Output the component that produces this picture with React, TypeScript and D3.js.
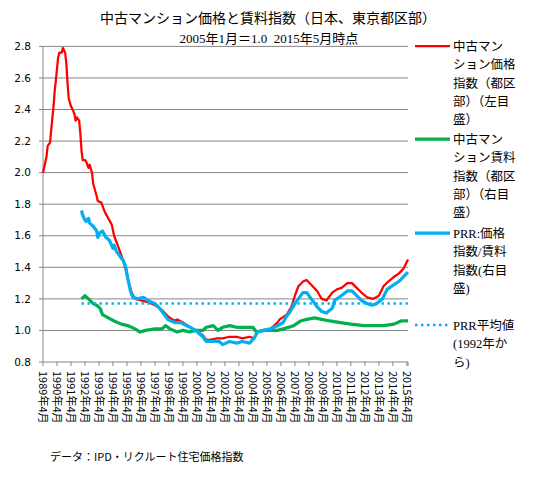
import React from "react";
import * as d3 from "d3";

const priceIndex: [string, number][] = [
  ["1989-04", 2.0], ["1989-07", 2.1], ["1989-08", 2.17], ["1989-10", 2.19], ["1989-11", 2.27],
  ["1990-01", 2.42], ["1990-02", 2.52], ["1990-03", 2.58], ["1990-05", 2.73], ["1990-06", 2.76],
  ["1990-08", 2.76], ["1990-09", 2.79], ["1990-11", 2.76], ["1990-12", 2.69], ["1991-01", 2.57],
  ["1991-02", 2.47], ["1991-04", 2.42], ["1991-06", 2.39], ["1991-07", 2.37], ["1991-08", 2.33],
  ["1991-09", 2.35], ["1991-11", 2.33], ["1991-12", 2.25], ["1992-01", 2.14], ["1992-02", 2.08],
  ["1992-04", 2.08], ["1992-05", 2.07], ["1992-07", 2.03], ["1992-08", 2.05], ["1992-10", 2.0],
  ["1992-11", 1.93], ["1993-02", 1.85], ["1993-03", 1.82], ["1993-06", 1.81], ["1993-09", 1.75],
  ["1993-12", 1.71], ["1994-03", 1.67], ["1994-05", 1.6], ["1994-08", 1.54], ["1994-11", 1.48],
  ["1995-02", 1.41], ["1995-05", 1.32], ["1995-08", 1.24], ["1995-11", 1.2], ["1996-04", 1.19],
  ["1996-10", 1.18], ["1997-04", 1.16], ["1997-10", 1.13], ["1998-03", 1.09], ["1998-05", 1.08],
  ["1998-09", 1.06], ["1998-11", 1.07], ["1999-04", 1.05], ["1999-10", 1.02], ["2000-03", 1.0],
  ["2000-09", 0.97], ["2000-12", 0.94], ["2001-03", 0.94], ["2001-09", 0.95], ["2002-02", 0.95],
  ["2002-08", 0.96], ["2003-02", 0.96], ["2003-07", 0.95], ["2004-01", 0.96], ["2004-05", 0.95],
  ["2004-08", 0.99], ["2005-01", 1.0], ["2005-07", 1.01], ["2006-01", 1.05], ["2006-03", 1.07],
  ["2006-09", 1.1], ["2007-01", 1.15], ["2007-04", 1.22], ["2007-07", 1.28], ["2007-11", 1.31],
  ["2008-02", 1.32], ["2008-06", 1.29], ["2008-11", 1.25], ["2009-03", 1.2], ["2009-07", 1.19],
  ["2009-12", 1.24], ["2010-04", 1.26], ["2010-08", 1.27], ["2011-01", 1.3], ["2011-05", 1.3],
  ["2011-09", 1.27], ["2012-01", 1.24], ["2012-06", 1.21], ["2012-11", 1.2], ["2013-04", 1.22],
  ["2013-08", 1.28], ["2013-12", 1.31], ["2014-05", 1.34], ["2014-09", 1.36], ["2015-01", 1.39],
  ["2015-05", 1.45],
];

const rentIndex: [string, number][] = [
  ["1992-01", 1.2], ["1992-04", 1.22], ["1992-07", 1.2], ["1992-11", 1.17], ["1993-02", 1.16],
  ["1993-05", 1.14], ["1993-07", 1.1], ["1993-12", 1.08], ["1994-05", 1.06], ["1994-11", 1.04],
  ["1995-05", 1.03], ["1995-11", 1.01], ["1996-03", 0.99], ["1996-08", 1.0], ["1997-04", 1.01],
  ["1997-10", 1.01], ["1998-01", 1.03], ["1998-05", 1.01], ["1998-11", 0.99], ["1999-04", 1.0],
  ["1999-10", 0.99], ["2000-03", 1.0], ["2000-09", 1.0], ["2000-12", 1.02], ["2001-06", 1.03],
  ["2001-10", 1.0], ["2002-02", 1.02], ["2002-08", 1.03], ["2003-02", 1.02], ["2003-07", 1.02],
  ["2004-04", 1.02], ["2004-07", 0.99], ["2005-01", 1.0], ["2006-01", 1.0], ["2006-06", 1.01],
  ["2007-03", 1.03], ["2007-09", 1.06], ["2008-02", 1.07], ["2008-09", 1.08], ["2009-03", 1.07],
  ["2009-10", 1.06], ["2010-07", 1.05], ["2011-04", 1.04], ["2012-03", 1.03], ["2013-08", 1.03],
  ["2014-05", 1.04], ["2014-11", 1.06], ["2015-05", 1.06],
];

const prrIndex: [string, number][] = [
  ["1992-01", 1.76], ["1992-02", 1.73], ["1992-04", 1.7], ["1992-05", 1.69], ["1992-07", 1.71],
  ["1992-08", 1.68], ["1992-11", 1.66], ["1993-02", 1.63], ["1993-03", 1.59], ["1993-05", 1.62],
  ["1993-07", 1.63], ["1993-10", 1.59], ["1994-01", 1.57], ["1994-04", 1.52], ["1994-05", 1.54],
  ["1994-07", 1.5], ["1994-10", 1.47], ["1995-01", 1.44], ["1995-03", 1.4], ["1995-05", 1.32],
  ["1995-07", 1.25], ["1995-09", 1.21], ["1996-01", 1.2], ["1996-06", 1.21], ["1996-10", 1.19],
  ["1997-04", 1.17], ["1997-08", 1.14], ["1997-11", 1.11], ["1998-03", 1.07], ["1998-09", 1.05],
  ["1999-02", 1.05], ["1999-10", 1.02], ["2000-03", 1.0], ["2000-09", 0.96], ["2000-12", 0.93],
  ["2001-06", 0.93], ["2001-11", 0.93], ["2002-02", 0.91], ["2002-08", 0.93], ["2003-02", 0.92],
  ["2003-07", 0.93], ["2004-01", 0.92], ["2004-05", 0.95], ["2004-08", 0.99], ["2005-01", 1.0],
  ["2005-07", 1.01], ["2006-01", 1.03], ["2006-06", 1.05], ["2006-08", 1.08], ["2006-12", 1.12],
  ["2007-04", 1.17], ["2007-07", 1.2], ["2007-11", 1.24], ["2008-02", 1.24], ["2008-06", 1.2],
  ["2008-11", 1.15], ["2009-03", 1.12], ["2009-07", 1.11], ["2009-12", 1.14], ["2010-02", 1.19],
  ["2010-06", 1.21], ["2011-01", 1.25], ["2011-05", 1.25], ["2011-09", 1.22], ["2012-01", 1.19],
  ["2012-06", 1.17], ["2012-10", 1.16], ["2013-02", 1.17], ["2013-07", 1.2], ["2013-11", 1.26],
  ["2014-05", 1.29], ["2014-09", 1.31], ["2015-01", 1.34], ["2015-05", 1.37],
];

const prrAverage: [string, number][] = [
  ["1992-01", 1.17],
  ["2015-05", 1.17],
];

const yTickValues = [0.8, 1.0, 1.2, 1.4, 1.6, 1.8, 2.0, 2.2, 2.4, 2.6, 2.8];
const tickYears = d3.range(1989, 2016);
const xTickLabels = tickYears.map((y) => `${y}年4月`);

const title = "中古マンション価格と賃料指数（日本、東京都区部）";
const subtitle = "2005年1月＝1.0\u00a0\u00a02015年5月時点";
const source = "データ：IPD・リクルート住宅価格指数";

const legendItems = [
  { lines: ["中古マン", "ション価格", "指数（都区", "部）（左目", "盛）"], color: "#FF0000", width: 2.25, dotted: false, y: 46 },
  { lines: ["中古マン", "ション賃料", "指数（都区", "部）（右目", "盛）"], color: "#00B050", width: 3.25, dotted: false, y: 139 },
  { lines: ["PRR:価格", "指数/賃料", "指数(右目", "盛)"], color: "#00B0F0", width: 3.25, dotted: false, y: 233 },
  { lines: ["PRR平均値", "(1992年か", "ら)"], color: "#00B0F0", width: 2.5, dotted: true, y: 325 },
];

const parse = d3.timeParse("%Y-%m");

export default function App() {
  const left = 43;
  const right = 408;
  const top = 46.4;
  const bottom = 362;

  const x = d3
    .scaleTime()
    .domain([parse("1989-04")!, parse("2015-05")!])
    .range([left, right]);
  const yLeft = d3.scaleLinear().domain([0.8, 2.8]).range([bottom, top]);
  const yRight = d3.scaleLinear().domain([0.8, 2.8]).range([bottom, top]);

  const lineLeft = d3
    .line<[string, number]>()
    .x((d) => x(parse(d[0])!))
    .y((d) => yLeft(d[1]));
  const lineRight = d3
    .line<[string, number]>()
    .x((d) => x(parse(d[0])!))
    .y((d) => yRight(d[1]));

  const grid = "#868686";
  const gothic = "'Noto Sans CJK JP', 'Noto Sans', sans-serif";
  const mincho = "'Liberation Serif', 'Noto Sans CJK JP', serif";

  return (
    <svg
      width={533}
      height={489}
      style={{ position: "absolute", left: 0, top: 0, background: "#fff" }}
    >
      <text x={268} y={23} textAnchor="middle" fontFamily={gothic} fontSize={14} fill="#000">
        {title}
      </text>
      <text x={269} y={43} textAnchor="middle" fontFamily={mincho} fontSize={13} fill="#000">
        {subtitle}
      </text>

      {yTickValues.map((v) => (
        <g key={v}>
          <line x1={left - 4} x2={right} y1={yLeft(v)} y2={yLeft(v)} stroke={grid} strokeWidth={1} />
          <text
            x={31}
            y={yLeft(v)}
            dy="0.35em"
            textAnchor="end"
            fontFamily="'DejaVu Sans', sans-serif"
            fontSize={10.5}
            fill="#000"
          >
            {d3.format(".1f")(v)}
          </text>
        </g>
      ))}
      <line x1={left} x2={left} y1={top} y2={bottom} stroke={grid} strokeWidth={1} />

      {tickYears.map((yr, i) => {
        const xp = x(parse(`${yr}-04`)!);
        return (
          <g key={yr}>
            <line x1={xp} x2={xp} y1={bottom} y2={bottom + 4} stroke={grid} strokeWidth={1} />
            <text
              transform={`translate(${xp},${bottom + 9}) rotate(90)`}
              dy="0.35em"
              textAnchor="start"
              fontFamily={gothic}
              fontSize={11}
              fill="#000"
            >
              {xTickLabels[i]}
            </text>
          </g>
        );
      })}
      <line x1={right} x2={right} y1={bottom} y2={bottom + 4} stroke={grid} strokeWidth={1} />

      <path d={lineLeft(priceIndex)!} fill="none" stroke="#FF0000" strokeWidth={2.25} strokeLinejoin="round" />
      <path d={lineRight(rentIndex)!} fill="none" stroke="#00B050" strokeWidth={3.25} strokeLinejoin="round" />
      <path d={lineRight(prrIndex)!} fill="none" stroke="#00B0F0" strokeWidth={3.25} strokeLinejoin="round" />
      <path
        d={lineRight(prrAverage)!}
        fill="none"
        stroke="#00B0F0"
        strokeWidth={2.5}
        strokeDasharray="2.4 3.6"
      />

      {legendItems.map((it, i) => (
        <g key={i}>
          <line
            x1={415}
            x2={450}
            y1={it.y}
            y2={it.y}
            stroke={it.color}
            strokeWidth={it.width}
            strokeDasharray={it.dotted ? "2.4 3.6" : undefined}
          />
          {it.lines.map((ln, j) => (
            <text
              key={j}
              x={453}
              y={it.y + j * 18.4}
              dy="0.38em"
              fontFamily={mincho}
              fontSize={12.5}
              fill="#000"
            >
              {ln}
            </text>
          ))}
        </g>
      ))}

      <text x={50} y={461} fontFamily={gothic} fontSize={11} fill="#000">
        {source}
      </text>
    </svg>
  );
}
